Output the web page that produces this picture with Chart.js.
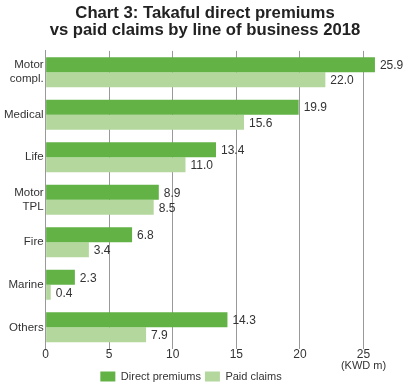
<!DOCTYPE html>
<html>
<head>
<meta charset="utf-8">
<script src="https://cdn.jsdelivr.net/npm/chart.js@4"></script>
<style>
  html, body { margin: 0; padding: 0; background: #fff; }
  #wrap { width: 408px; height: 389px; }
</style>
</head>
<body>
<div id="wrap"><canvas id="myChart"></canvas></div>
<script>
const categories = [["Motor", "compl."], "Medical", "Life", ["Motor", "TPL"], "Fire", "Marine", "Others"];
const directPremiums = [25.9, 19.9, 13.4, 8.9, 6.8, 2.3, 14.3];
const paidClaims = [22.0, 15.6, 11.0, 8.5, 3.4, 0.4, 7.9];
const xTicks = [0, 5, 10, 15, 20, 25];

const darkGreen = '#62b246';
const lightGreen = '#b3d79c';

// value labels at the end of each bar + unit text
const barValues = {
  id: 'barValues',
  afterLayout(chart) {
    // legend sits a bit left of centre and lower in the original
    chart.legend.left -= 14;
    chart.legend.right -= 14;
    chart.legend.top += 3;
    chart.legend.bottom += 3;
  },
  afterDatasetsDraw(chart) {
    const c = chart.ctx;
    c.save();
    c.font = '12px "Liberation Sans", Arial, sans-serif';
    c.fillStyle = '#333';
    c.textBaseline = 'middle';
    chart.data.datasets.forEach((ds, i) => {
      chart.getDatasetMeta(i).data.forEach((bar, j) => {
        c.fillText(ds.data[j].toFixed(1), bar.x + 5, bar.y + 1);
      });
    });
    const xs = chart.scales.x;
    c.textAlign = 'center';
    c.font = '11px "Liberation Sans", Arial, sans-serif';
    c.fillText('(KWD m)', xs.getPixelForValue(25), 366);
    c.restore();
  }
};

const ctx = document.getElementById('myChart');
new Chart(ctx, {
  type: 'bar',
  data: {
    labels: categories,
    datasets: [{
      label: 'Direct premiums',
      data: directPremiums,
      backgroundColor: darkGreen,
      categoryPercentage: 0.707,
      barPercentage: 1
    }, {
      label: 'Paid claims',
      data: paidClaims,
      backgroundColor: lightGreen,
      categoryPercentage: 0.707,
      barPercentage: 1
    }]
  },
  options: {
    indexAxis: 'y',
    responsive: true,
    maintainAspectRatio: false,
    animation: false,
    layout: { padding: { left: 2, right: 0, top: 0, bottom: 0 } },
    scales: {
      x: {
        min: 0,
        max: 28.5,
        afterBuildTicks: (axis) => { axis.ticks = xTicks.map(v => ({ value: v })); },
        afterFit: (axis) => { axis.height += 3; },
        grid: { color: '#999', drawTicks: false },
        border: { display: false },
        ticks: {
          padding: -1,
          color: '#333',
          font: { size: 12, family: '"Liberation Sans", Arial, sans-serif' }
        }
      },
      y: {
        grid: { display: false, drawTicks: false },
        border: { display: true, color: '#999' },
        ticks: {
          padding: 2,
          color: '#333',
          font: { size: 11.5, family: '"Liberation Sans", Arial, sans-serif' }
        }
      }
    },
    plugins: {
      title: {
        display: true,
        text: ['Chart 3: Takaful direct premiums', 'vs paid claims by line of business 2018'],
        color: '#222',
        font: { size: 16.7, weight: 'bold', family: '"Liberation Sans", Arial, sans-serif', lineHeight: 1.0 },
        padding: { top: 5.5, bottom: 12 }
      },
      legend: {
        position: 'bottom',
        labels: {
          boxWidth: 15,
          boxHeight: 10,
          padding: 4,
          color: '#333',
          font: { size: 11, family: '"Liberation Sans", Arial, sans-serif' }
        }
      },
      tooltip: { enabled: false }
    }
  },
  plugins: [barValues]
});
</script>
</body>
</html>
